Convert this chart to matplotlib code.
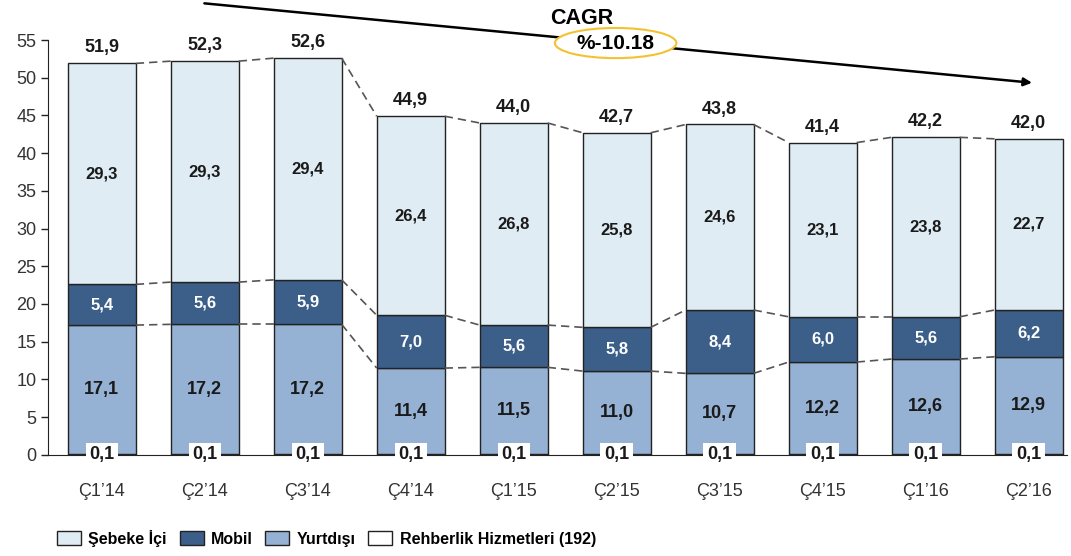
import matplotlib.pyplot as plt
from matplotlib.patches import Ellipse
import numpy as np

plt.rcParams['font.family'] = ['Liberation Sans', 'DejaVu Sans']

quarters = ["Ç1’14", "Ç2’14", "Ç3’14", "Ç4’14", "Ç1’15", "Ç2’15", "Ç3’15", "Ç4’15", "Ç1’16", "Ç2’16"]
rehberlik = [0.1, 0.1, 0.1, 0.1, 0.1, 0.1, 0.1, 0.1, 0.1, 0.1]
yurtdisi = [17.1, 17.2, 17.2, 11.4, 11.5, 11.0, 10.7, 12.2, 12.6, 12.9]
mobil = [5.4, 5.6, 5.9, 7.0, 5.6, 5.8, 8.4, 6.0, 5.6, 6.2]
sebeke = [29.3, 29.3, 29.4, 26.4, 26.8, 25.8, 24.6, 23.1, 23.8, 22.7]
totals = [51.9, 52.3, 52.6, 44.9, 44.0, 42.7, 43.8, 41.4, 42.2, 42.0]
cagr_text = "%-10.18"

c_seb = '#DFECF3'
c_mob = '#3C5F8A'
c_yurt = '#95B2D5'
c_reh = '#FFFFFF'
edge = '#222222'

fig = plt.figure(figsize=(10.71, 5.56), dpi=100)
ax = fig.add_axes([0.045, 0.182, 0.951, 0.746])

x = np.arange(len(quarters))
w = 0.66
reh = np.array(rehberlik)
yur = np.array(yurtdisi)
mob = np.array(mobil)
seb = np.array(sebeke)

b_reh = ax.bar(x, reh, w, color=c_reh, edgecolor=edge, lw=1, label='Rehberlik Hizmetleri (192)')
b_yur = ax.bar(x, yur, w, bottom=reh, color=c_yurt, edgecolor=edge, lw=1, label='Yurtdışı')
b_mob = ax.bar(x, mob, w, bottom=reh + yur, color=c_mob, edgecolor=edge, lw=1, label='Mobil')
b_seb = ax.bar(x, seb, w, bottom=reh + yur + mob, color=c_seb, edgecolor=edge, lw=1, label='Şebeke İçi')

def fmt(v):
    return ('%.1f' % v).replace('.', ',')

# dashed connectors between bars
levels = [reh + yur, reh + yur + mob, reh + yur + mob + seb]
for lv in levels:
    for i in range(len(x) - 1):
        ax.plot([x[i] + w / 2, x[i + 1] - w / 2], [lv[i], lv[i + 1]],
                ls=(0, (5, 3)), color='#555555', lw=1.2, zorder=1)

for i in range(len(x)):
    ax.text(x[i], reh[i] + yur[i] / 2, fmt(yur[i]), ha='center', va='center',
            fontsize=13, fontweight='bold', color='#1a1a1a')
    ax.text(x[i], reh[i] + yur[i] + mob[i] / 2, fmt(mob[i]), ha='center', va='center',
            fontsize=12, fontweight='bold', color='white')
    ax.text(x[i], reh[i] + yur[i] + mob[i] + seb[i] / 2, fmt(seb[i]), ha='center', va='center',
            fontsize=12, fontweight='bold', color='#1a1a1a')
    ax.annotate(fmt(totals[i]), (x[i], reh[i] + yur[i] + mob[i] + seb[i]),
                xytext=(0, 5), textcoords='offset points', ha='center', va='bottom',
                fontsize=13, fontweight='bold', color='#1a1a1a')
    ax.text(x[i], 0, fmt(reh[i]), ha='center', va='center', fontsize=13,
            fontweight='bold', color='#1a1a1a', zorder=5,
            bbox=dict(boxstyle='square,pad=0.2', fc='white', ec='none'))

# CAGR arrow
ax.annotate('', xy=(9.06, 49.3), xytext=(0.97, 59.9),
            arrowprops=dict(arrowstyle='-|>', color='black', lw=1.8, mutation_scale=12),
            annotation_clip=False)
ax.text(4.66, 57.9, 'CAGR', ha='center', va='center', fontsize=15.5, fontweight='bold')
ell = Ellipse((4.99, 54.6), 1.18, 4.0, fc='white', ec='#F2C230', lw=1.5, zorder=4, clip_on=False)
ax.add_patch(ell)
ax.text(4.99, 54.6, cagr_text, ha='center', va='center', fontsize=15, fontweight='bold', zorder=5)

ax.set_xlim(-0.52, 9.37)
ax.set_ylim(0, 55)
ax.set_yticks(np.arange(0, 56, 5))
ax.set_xticks(x)
ax.set_xticklabels(quarters)
ax.tick_params(axis='x', length=0, pad=20, labelsize=13, labelcolor='#333333')
ax.tick_params(axis='y', length=5, width=1, labelsize=13, labelcolor='#333333', color='#222222')
ax.spines['top'].set_visible(False)
ax.spines['right'].set_visible(False)
ax.spines['left'].set_color('#222222')
ax.spines['bottom'].set_color('#222222')

fig.legend(handles=[b_seb, b_mob, b_yur, b_reh], loc='center left', bbox_to_anchor=(0.040, 0.032),
           ncol=4, frameon=False, prop={'size': 11.5, 'weight': 'bold'},
           handlelength=1.5, handleheight=0.95, columnspacing=0.8, handletextpad=0.45)

fig.savefig('out.png', dpi=100)
